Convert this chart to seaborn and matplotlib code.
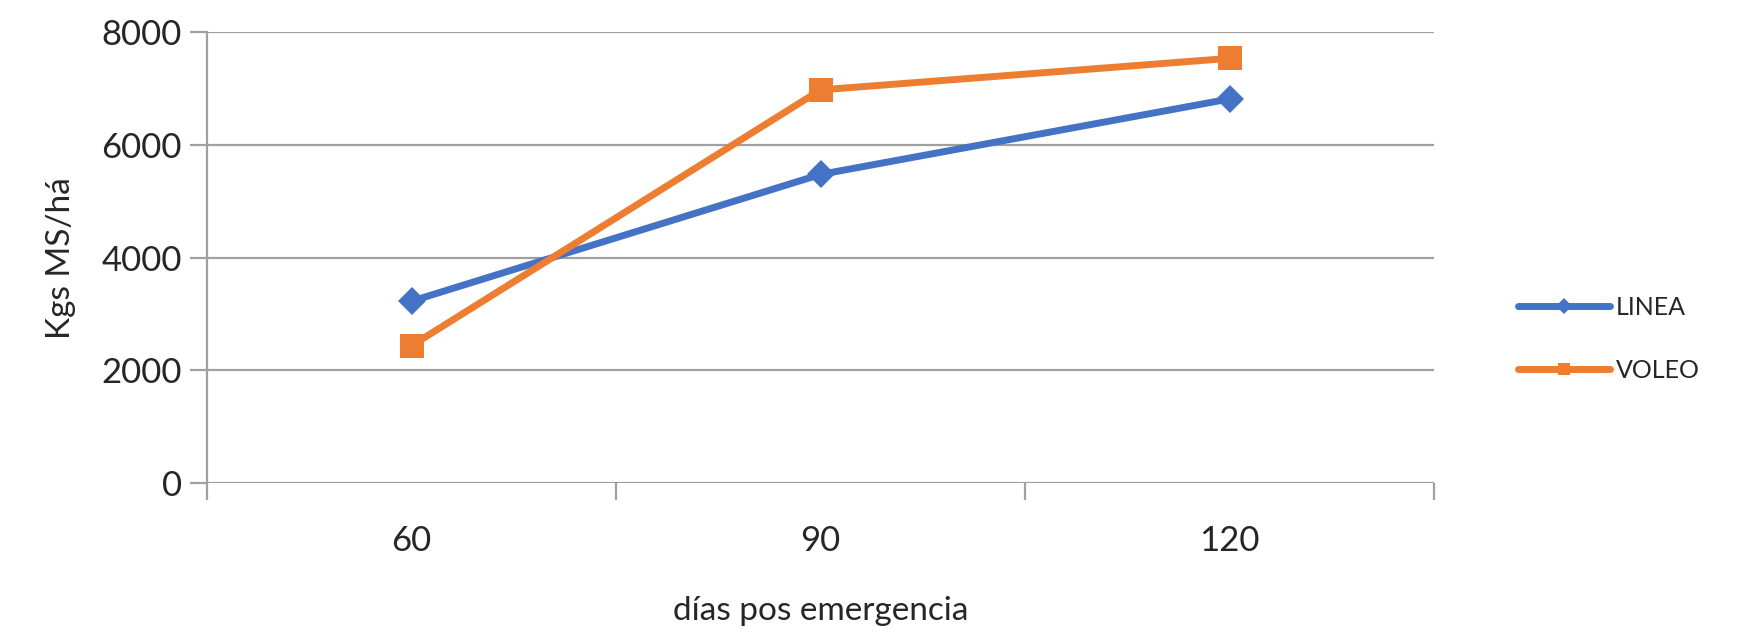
import matplotlib
matplotlib.use("Agg")
import matplotlib.pyplot as plt
import seaborn as sns
import pandas as pd
from matplotlib.lines import Line2D

categories = ["60", "90", "120"]
linea = [3230, 5480, 6820]
voleo = [2440, 6980, 7540]
series_names = ["LINEA", "VOLEO"]
colors = ["#4472C4", "#ED7D31"]
yticks = [0, 2000, 4000, 6000, 8000]

df = pd.DataFrame({
    "dias": categories * 2,
    "valor": linea + voleo,
    "serie": [series_names[0]] * 3 + [series_names[1]] * 3,
})

sns.set_theme(style="white")
plt.rcParams['font.family'] = ['Lato', 'DejaVu Sans']

fig = plt.figure(figsize=(17.45, 6.33), dpi=100)
ax = fig.add_axes([0.1186, 0.2367, 0.8220 - 0.1186, 0.9488 - 0.2367])

grid_c = "#A0A0A0"
for v in yticks:
    ax.axhline(v, color=grid_c, lw=1.6, zorder=0)

for name, col, mk, ms in zip(series_names, colors, ["D", "s"], [14, 17]):
    sub = df[df["serie"] == name]
    sns.lineplot(data=sub, x="dias", y="valor", ax=ax, color=col, lw=5,
                 marker=mk, markersize=ms, markeredgewidth=0, sort=False,
                 legend=False, zorder=3)

ax.set_xlim(-0.5, 2.5)
ax.set_ylim(0, 8000)
ax.set_yticks(yticks)
ax.set_yticklabels([str(v) for v in yticks])
ax.set_xticks([-0.5, 0.5, 1.5, 2.5])
ax.set_xticklabels([])
ax.set_xticks([0, 1, 2], minor=True)
ax.set_xticklabels(categories, minor=True)
ax.tick_params(axis="x", which="major", direction="out", length=12, width=1.6,
               color=grid_c, bottom=True)
ax.tick_params(axis="x", which="minor", length=0, pad=30, labelsize=25,
               labelcolor="#262626")
ax.tick_params(axis="y", which="major", direction="out", length=12, width=1.6,
               color=grid_c, left=True, labelsize=25, labelcolor="#262626", pad=6)

for s in ["top", "right", "bottom"]:
    ax.spines[s].set_visible(False)
ax.spines["left"].set_color(grid_c)
ax.spines["left"].set_linewidth(1.6)

ax.set_xlabel("días pos emergencia", fontsize=24, color="#262626", labelpad=28)
ax.set_ylabel("Kgs MS/há", fontsize=24, color="#262626", labelpad=18)

handles = [Line2D([0], [0], color=colors[0], lw=5, marker="D", markersize=8, markeredgewidth=0),
           Line2D([0], [0], color=colors[1], lw=5, marker="s", markersize=9, markeredgewidth=0)]
fig.legend(handles, series_names, loc="center left", bbox_to_anchor=(0.857, 0.465),
           frameon=False, fontsize=18, handlelength=3.7, handletextpad=0.2,
           labelspacing=1.6, labelcolor="#262626")

fig.savefig("out.png", dpi=100)
